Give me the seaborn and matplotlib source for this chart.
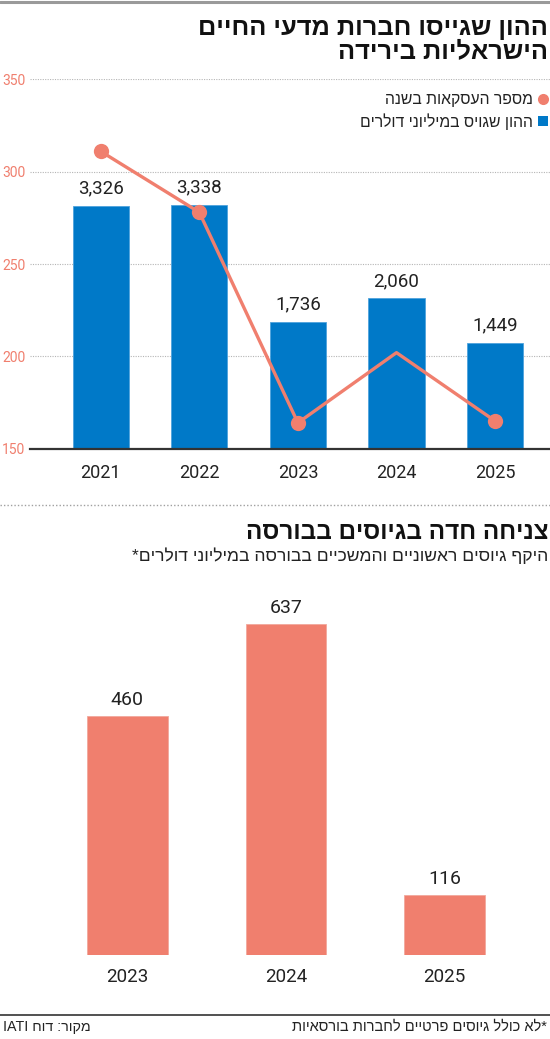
import re
import matplotlib
matplotlib.use("Agg")
import matplotlib.pyplot as plt
from matplotlib.lines import Line2D
import seaborn as sns
import pandas as pd

# data
years = ["2021", "2022", "2023", "2024", "2025"]
capital_musd = [3326, 3338, 1736, 2060, 1449]
deals_per_year = [311, 278, 164, 202, 165]
deal_ticks = [150, 200, 250, 300, 350]

ipo_years = ["2023", "2024", "2025"]
ipo_musd = [460, 637, 116]

title_top = "ההון שגייסו חברות מדעי החיים\nהישראליות בירידה"
legend_deals = "מספר העסקאות בשנה"
legend_capital = "ההון שגויס במיליוני דולרים"
title_bottom = "צניחה חדה בגיוסים בבורסה"
subtitle_bottom = "היקף גיוסים ראשוניים והמשכיים בבורסה במיליוני דולרים*"
note = "*לא כולל גיוסים פרטיים לחברות בורסאיות"
source = "מקור: דוח IATI"

BLUE = "#0079C8"
SALMON = "#F07F6E"
INK = "#222222"
HEB = ["Liberation Sans", "DejaVu Sans"]
NUM = ["Liberation Sans Narrow", "Roboto", "DejaVu Sans"]


def heb(s):
    # matplotlib has no bidi, so lay RTL text out visually by hand
    lines = []
    for line in s.split("\n"):
        r = line[::-1]
        r = re.sub(r"[A-Za-z0-9.,]+", lambda m: m.group(0)[::-1], r)
        lines.append(r)
    return "\n".join(lines)


sns.set_style("white")
plt.rcParams["font.family"] = HEB

W, H = 550, 1039
fig = plt.figure(figsize=(W / 100, H / 100), dpi=100)


def fx(px):
    return px / W


def fy(py):
    return 1 - py / H


# top rule and titles
fig.add_artist(Line2D([0, 1], [fy(1.5), fy(1.5)], color="#9a9a9a", lw=2.2))
fig.text(fx(548), fy(16), heb(title_top), ha="right", va="top", fontsize=18.3,
         fontweight="bold", color="#111111", linespacing=0.97, multialignment="right")

# ---- top chart: capital bars + deals line ----
df = pd.DataFrame({"year": years, "capital": capital_musd, "deals": deals_per_year})

rect = [fx(30), fy(448.7), fx(520), 369.4 / H]
ax = fig.add_axes(rect)
ax.set_ylim(150, 350)
ax.set_yticks(deal_ticks)
ax.yaxis.grid(True, linestyle=(0, (1, 1.2)), color="#b5b5b5", lw=0.8)
ax.tick_params(axis="y", length=0, pad=3.5, labelcolor=SALMON, labelsize=10)
for lab in ax.get_yticklabels():
    lab.set_fontfamily(NUM)
for s in ax.spines.values():
    s.set_visible(False)

ax_bar = ax.twinx()
sns.barplot(data=df, x="year", y="capital", ax=ax_bar, color=BLUE, width=0.57,
            saturation=1, edgecolor="#4ea3dc", linewidth=0.6)
ax_bar.set_ylim(0, 5056)
ax_bar.bar_label(ax_bar.containers[0], labels=[f"{v:,}" for v in capital_musd],
                 padding=6, fontsize=13.5, color=INK, fontfamily=NUM)

ax_line = ax.twinx()
sns.lineplot(data=df, x="year", y="deals", ax=ax_line, color=SALMON, lw=2.4,
             marker="o", markersize=11, markeredgewidth=0, markevery=[0, 1, 2, 4])
ax_line.set_ylim(150, 350)

for a in (ax_bar, ax_line):
    a.set_yticks([])
    a.set_ylabel("")
    a.set_xlabel("")
    for s in a.spines.values():
        s.set_visible(False)
ax_line.spines["bottom"].set_visible(True)
ax_line.spines["bottom"].set_color("#333333")
ax_line.spines["bottom"].set_linewidth(1.6)

ax.set_xlim(-0.717, 4.557)
ax.set_xlabel("")
ax.tick_params(axis="x", length=0, pad=11, labelsize=13, labelcolor=INK)
for lab in ax.get_xticklabels():
    lab.set_fontfamily(NUM)

leg_handles = [
    Line2D([], [], ls="none", marker="o", markersize=8, color=SALMON, markeredgewidth=0),
    Line2D([], [], ls="none", marker="s", markersize=7, color=BLUE, markeredgewidth=0),
]
fig.legend(leg_handles, [heb(legend_deals), heb(legend_capital)], loc="upper right",
           bbox_to_anchor=(fx(548), fy(92)), markerfirst=False, frameon=False,
           fontsize=11.3, handletextpad=0.25, handlelength=0.7, labelspacing=0.4,
           borderpad=0, borderaxespad=0, labelcolor=INK)

# dotted separator
fig.add_artist(Line2D([0, 1], [fy(505), fy(505)], color="#a0a0a0", lw=1,
                      linestyle=(0, (1, 1.5))))

fig.text(fx(548), fy(521), heb(title_bottom), ha="right", va="top", fontsize=17.5,
         fontweight="bold", color="#111111")
fig.text(fx(548), fy(547), heb(subtitle_bottom), ha="right", va="top", fontsize=12.6,
         color=INK)

# ---- bottom chart: stock-exchange raises ----
ipo = pd.DataFrame({"year": ipo_years, "raised": ipo_musd})
bx = fig.add_axes([fx(48), fy(955), fx(476), 363.7 / H])
sns.barplot(data=ipo, x="year", y="raised", ax=bx, color=SALMON, width=0.51,
            saturation=1, edgecolor="#f2a89c", linewidth=0.6)
bx.set_ylim(0, 700)
bx.set_xlim(-0.5, 2.5)
bx.bar_label(bx.containers[0], labels=[f"{v:,}" for v in ipo_musd], padding=5,
             fontsize=14, color=INK, fontfamily=NUM)
bx.set_yticks([])
bx.set_xlabel("")
bx.set_ylabel("")
bx.tick_params(axis="x", length=0, pad=9, labelsize=13.5, labelcolor=INK)
for lab in bx.get_xticklabels():
    lab.set_fontfamily(NUM)
for s in bx.spines.values():
    s.set_visible(False)

# footer
fig.add_artist(Line2D([0, 1], [fy(1015), fy(1015)], color="#333333", lw=1.2))
fig.text(fx(3), fy(1020), heb(source), ha="left", va="top", fontsize=10.3, color=INK)
fig.text(fx(547), fy(1020), heb(note), ha="right", va="top", fontsize=10.5, color=INK)

fig.savefig("out.png", dpi=100)
